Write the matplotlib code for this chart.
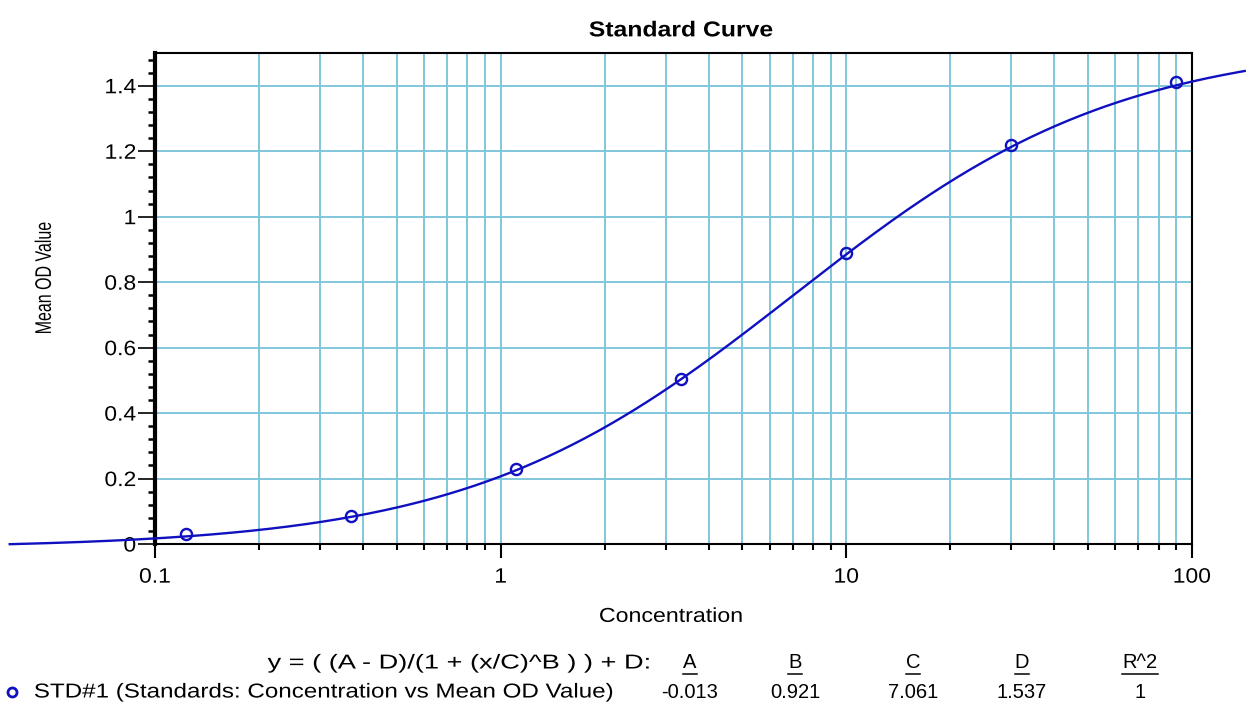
import numpy as np
import matplotlib
matplotlib.use("Agg")
import matplotlib.pyplot as plt
import matplotlib.patheffects as pe
from matplotlib.ticker import LogLocator, NullFormatter, MultipleLocator, FixedLocator, FuncFormatter
from matplotlib.lines import Line2D
from matplotlib.transforms import Affine2D

plt.rcParams['font.family'] = ['Liberation Sans', 'DejaVu Sans']

# standards
conc = [0.123, 0.370, 1.111, 3.333, 10.0, 30.0, 90.0]
mean_od = [0.030, 0.087, 0.228, 0.505, 0.890, 1.218, 1.410]

# 4PL fit parameters as printed under the chart
param_names = ['A', 'B', 'C', 'D', 'R^2']
param_values = ['-0.013', '0.921', '7.061', '1.537', '1']
A, B, C, D = -0.013, 0.921, 7.061, 1.537
curve_range = [0.038, 142.0]

blue = '#1010c0'
grid_col = '#7fc6da'


class Stretch(pe.AbstractPathEffect):
    # widen text, the original screenshot has stretched text
    def __init__(self, sx, anchor='center', sy=1.0):
        super().__init__()
        self.sx = sx
        self.sy = sy
        self.anchor = anchor

    def draw_path(self, renderer, gc, tpath, affine, rgbFace=None):
        ext = tpath.get_extents()
        if self.anchor == 'center':
            cx = (ext.x0 + ext.x1) / 2
        elif self.anchor == 'left':
            cx = ext.x0
        else:
            cx = ext.x1
        cy = (ext.y0 + ext.y1) / 2
        t = Affine2D().translate(-cx, -cy).scale(self.sx, self.sy).translate(cx, cy) + affine
        renderer.draw_path(gc, tpath, t, rgbFace)


fig = plt.figure(figsize=(12.49, 7.08), dpi=100)
ax = fig.add_axes([0.1241, 0.2316, 0.8303, 0.6935])

ax.set_xscale('log')
ax.set_xlim(0.1, 100)
ax.set_ylim(0, 1.5)

# fitted curve, drawn past the axes like the original
xc = np.logspace(np.log10(curve_range[0]), np.log10(curve_range[1]), 400)
yc = (A - D) / (1 + (xc / C) ** B) + D
ax.plot(xc, yc, color=blue, lw=1.7, clip_on=False, zorder=4)
ax.plot(conc, mean_od, 'o', mfc='none', mec=blue, mew=1.7, ms=8, zorder=5, clip_on=False)

# ticks
ax.xaxis.set_major_locator(FixedLocator([0.1, 1, 10, 100]))
ax.xaxis.set_major_formatter(FuncFormatter(lambda v, p: '%g' % v))
ax.xaxis.set_minor_locator(LogLocator(base=10, subs=np.arange(2, 10)))
ax.xaxis.set_minor_formatter(NullFormatter())
ax.yaxis.set_major_locator(MultipleLocator(0.2))
ax.yaxis.set_minor_locator(MultipleLocator(0.04))
ax.yaxis.set_major_formatter(FuncFormatter(lambda v, p: '%g' % round(v, 2)))

ax.tick_params(axis='x', which='major', direction='out', length=10, width=1.5, labelsize=15, pad=7)
ax.tick_params(axis='x', which='minor', direction='out', length=4, width=1.5)
ax.tick_params(axis='y', which='major', direction='out', length=12, width=1.2, labelsize=15, pad=1.5)
ax.tick_params(axis='y', which='minor', direction='out', length=5, width=1.8)

ax.grid(True, which='both', axis='x', color=grid_col, lw=1.4)
ax.grid(True, which='major', axis='y', color=grid_col, lw=1.4)
ax.set_axisbelow(True)

ax.spines['left'].set_linewidth(3)
for s in ['bottom', 'top', 'right']:
    ax.spines[s].set_linewidth(1.5)

title = ax.set_title('Standard Curve', fontsize=15.5, fontweight='bold', pad=12, x=0.5072)
title.set_path_effects([Stretch(1.15)])
xl = ax.set_xlabel('Concentration', fontsize=14.5)
xl.set_path_effects([Stretch(1.15)])
ax.xaxis.set_label_coords(0.4976, -0.128)
yl = ax.set_ylabel('Mean OD Value', fontsize=12.5)
yl.set_path_effects([Stretch(0.92, 'center', sy=1.3)])
ax.yaxis.set_label_coords(-0.0993, 0.542)

# equation / parameter table under the chart
col_x = [690, 795, 913, 1022, 1140]
W, H = 1249.0, 708.0
eq = fig.text(650 / W, 1 - 663 / H, 'y = ( (A - D)/(1 + (x/C)^B ) ) + D:', ha='right', va='center', fontsize=14.5)
eq.set_path_effects([Stretch(1.35, 'right')])
std = fig.text(34 / W, 1 - 692 / H, 'STD#1 (Standards: Concentration vs Mean OD Value)', ha='left', va='center', fontsize=14.5)
std.set_path_effects([Stretch(1.2, 'left')])
fig.add_artist(Line2D([12 / W], [1 - 692 / H], marker='o', mfc='none', mec=blue, mew=2, ms=6.5, ls='none'))

headers = []
for name, val, cx in zip(param_names, param_values, col_x):
    headers.append(fig.text(cx / W, 1 - 663 / H, name, ha='center', va='center', fontsize=14.5))
    fig.text(cx / W, 1 - 692 / H, val, ha='center', va='center', fontsize=14.5)

fig.canvas.draw()
for lab in ax.get_xticklabels():
    lab.set_path_effects([Stretch(1.1, 'center')])
for lab in ax.get_yticklabels():
    lab.set_path_effects([Stretch(1.1, 'right')])

# underline the headers
r = fig.canvas.get_renderer()
for t in headers:
    bb = t.get_window_extent(r)
    y0 = bb.y0 - 1
    fig.add_artist(Line2D([bb.x0 / W, bb.x1 / W], [y0 / H, y0 / H], color='black', lw=1.1))

fig.savefig('out.png', dpi=100)
